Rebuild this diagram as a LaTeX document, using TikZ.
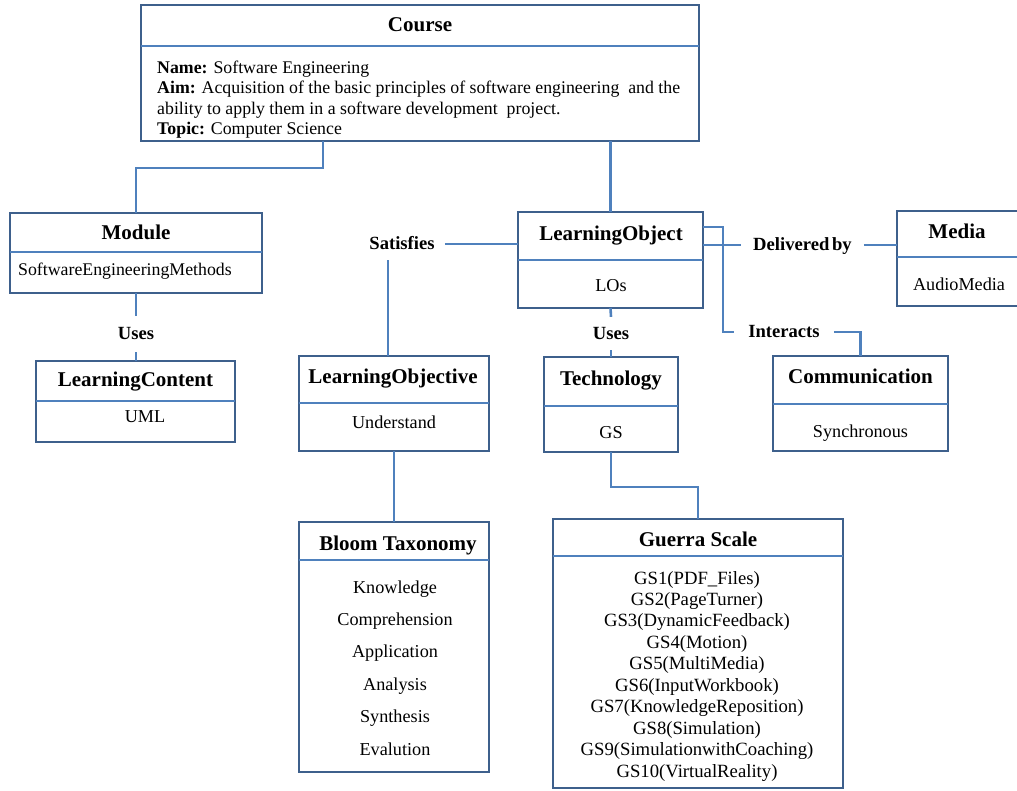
\documentclass[tikz,border=0pt]{standalone}
\usepackage{fontspec}
\setmainfont{Liberation Serif}
\definecolor{boxblue}{RGB}{62,96,140}
\definecolor{linkblue}{RGB}{79,129,189}

% #1 name, #2 left, #3 top, #4 right, #5 bottom, #6 y of the compartment divider
\newcommand\classbox[6]{%
  \node[classbox, minimum width={#4-#2}, minimum height={#5-#3}, anchor=north west] (#1) at (#2,#3) {};
  \draw[divider] (#1.west |- 0,#6) -- (#1.east |- 0,#6);
}

\begin{document}
\begin{tikzpicture}[x=1pt, y=-1pt,
  classbox/.style={draw=boxblue, line width=2.6pt, inner sep=0pt, outer sep=0pt, rectangle},
  divider/.style={draw=linkblue, line width=2.4pt},
  link/.style={draw=linkblue, line width=2.6pt},
  head/.style={font=\fontsize{21}{24}\selectfont\bfseries, anchor=base, inner sep=0pt},
  body/.style={font=\fontsize{18.2}{21}\selectfont, anchor=base, inner sep=0pt},
  note/.style={font=\fontsize{17.8}{21}\selectfont, anchor=base west, inner sep=0pt},
  rel/.style={font=\fontsize{18.6}{21}\selectfont\bfseries, text height=12pt, text depth=0pt,
              inner xsep=12pt, inner ysep=0pt},
]
\useasboundingbox (0,0) rectangle (1017,791);
\clip (0,0) rectangle (1017,791);

% ---------- class boxes ----------
\classbox{course}{141}{5}{699}{141}{46}
\classbox{module}{10}{213}{262}{293}{252}
\classbox{lc}{36}{361}{235}{442}{401}
\classbox{lo}{518}{212}{703}{308}{260}
\classbox{lobj}{299}{356}{489}{451}{403}
\classbox{tech}{544}{357}{678}{452}{406}
\classbox{media}{897}{211}{1040}{306}{257}
\classbox{comm}{773}{356}{948}{451}{404}
\classbox{bloom}{299}{522}{489}{772}{560}
\classbox{guerra}{553}{519}{843}{788}{556}

% ---------- Course ----------
\node[head] (courseT) at (420,32) {Course};
\node[note] (cName) at (157,73.5) {\textbf{Name:} Software Engineering};
\node[note] (cAim) at (157,94) {\textbf{Aim:} Acquisition of the basic principles of software engineering~ and the};
\node[note] (cAim2) at (157,114.5) {ability to apply them in a software development~ project.};
\node[note] (cTopic) at (157,135) {\textbf{Topic:} Computer Science};

% ---------- Module / LearningContent ----------
\node[head] (moduleT) at (136,240) {Module};
\node[note] (moduleV) at (18,276) {SoftwareEngineeringMethods};
\node[head] (lcT) at (135.5,386) {LearningContent};
\node[body] (lcV) at (145,422) {UML};

% ---------- LearningObject ----------
\node[head] (loT) at (611,241) {LearningObject};
\node[body] (loV) at (611,292) {LOs};

% ---------- LearningObjective / Bloom ----------
\node[head] (lobjT) at (393,383) {LearningObjective};
\node[body] (lobjV) at (394,428) {Understand};
\node[head] (bloomT) at (398,550) {Bloom Taxonomy};
\foreach \t [count=\i] in {Knowledge,Comprehension,Application,Analysis,Synthesis,Evalution}
  \node[body] (bloom\i) at (395,{593+32.4*(\i-1)}) {\t};

% ---------- Technology / Guerra Scale ----------
\node[head] (techT) at (611,385) {Technology};
\node[body] (techV) at (611,438) {GS};
\node[head] (guerraT) at (698,546) {Guerra Scale};
\foreach \t [count=\i] in {GS1(PDF\_Files),GS2(PageTurner),GS3(DynamicFeedback),GS4(Motion),
    GS5(MultiMedia),GS6(InputWorkbook),GS7(KnowledgeReposition),GS8(Simulation),
    GS9(SimulationwithCoaching),GS10(VirtualReality)}
  \node[body, font=\fontsize{18.7}{21}\selectfont] (gs\i) at (697,{584+21.45*(\i-1)}) {\t};

% ---------- Media / Communication ----------
\node[head] (mediaT) at (957,239) {Media};
\node[body] (mediaV) at (959,291) {AudioMedia};
\node[head] (commT) at (860.5,384) {Communication};
\node[body] (commV) at (860.5,437) {Synchronous};

% ---------- relation labels ----------
\node[rel, minimum height=36pt] (uses1) at (136,334) {Uses};
\node[rel, minimum height=33pt] (uses2) at (611,333.5) {Uses};
\node[rel, minimum height=32pt, inner xsep=10pt] (sat) at (402,244) {Satisfies};
\node[rel, minimum height=24pt] (deliv) at (802.5,245) {Delivered\hspace{0.15em}by};
\node[rel, minimum height=24pt, inner xsep=14pt] (inter) at (784,332) {Interacts};

% ---------- connectors ----------
\draw[link] (course.south -| 323,0) -- ++(0,27) -| (module.north);
\draw[link] (course.south -| lo.north) -- (lo.north);
\draw[link] (module.south) -- (uses1.north);
\draw[link] (uses1.south) -- (lc.north -| uses1.south);
\draw[link] (sat.east) -- (lo.west |- sat.east);
\draw[link] (sat.south -| 388,0) -- (lobj.north -| 388,0);
\draw[link] (lobj.south -| bloom.north) -- (bloom.north);
\draw[link] (lo.south) -- (uses2.north);
\draw[link] (uses2.south) -- (tech.north -| uses2.south);
\draw[link] (tech.south) -- ++(0,35) -| (guerra.north);
\draw[link] (lo.east |- deliv.west) -- (deliv.west);
\draw[link] (deliv.east) -- (media.west |- deliv.east);
\draw[link] (lo.east |- 0,227) -| (inter.west -| 723,0) -- (inter.west);
\draw[link] (inter.east) -| (comm.north);
\end{tikzpicture}
\end{document}
